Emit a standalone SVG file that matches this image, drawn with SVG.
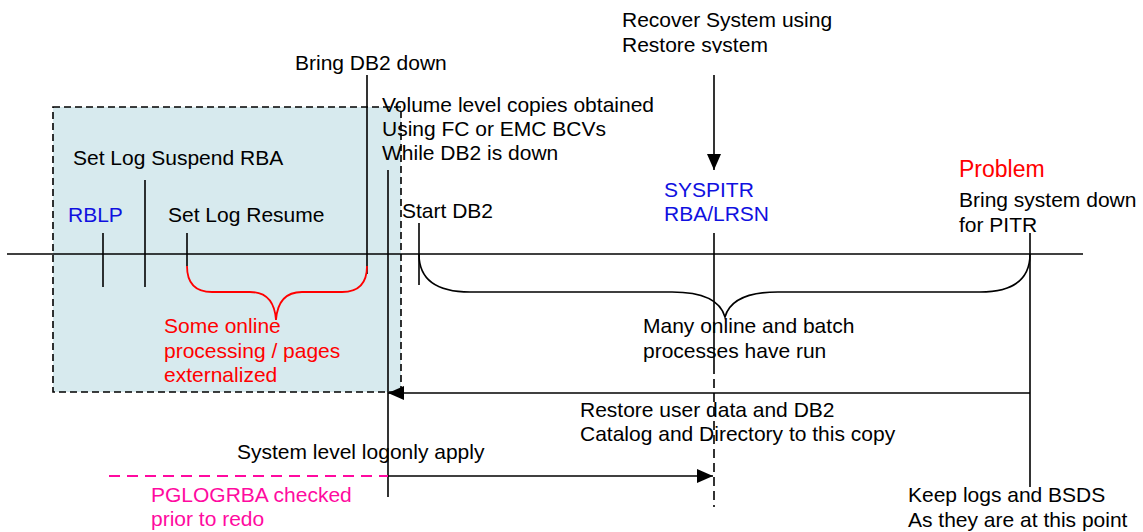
<svg xmlns="http://www.w3.org/2000/svg" width="1143" height="532" viewBox="0 0 1143 532">
<style>
text{font-family:"Liberation Sans",Arial,sans-serif;font-size:21px;fill:#000}
.blue{fill:#1010e0}
.red{fill:#ff0000}
.pink{fill:#ff0aa0}
.ln{stroke:#000;stroke-width:1.6;fill:none}
.dash{stroke:#000;stroke-width:1.6;fill:none;stroke-dasharray:9 5}
</style>
<defs>
<marker id="ah" viewBox="0 0 16 14" refX="16" refY="7" markerWidth="16" markerHeight="14" markerUnits="userSpaceOnUse" orient="auto">
<path d="M0,0 L16,7 L0,14 Z" fill="#000"/>
</marker>
<clipPath id="clipTop"><rect x="600" y="0" width="300" height="53"/></clipPath>
</defs>

<g id="copy-box">
<rect x="53" y="107" width="348" height="285" fill="#d7eaee" stroke="#000" stroke-width="1.6" stroke-dasharray="7 4"/>
</g>

<g id="connectors">
<line class="ln" x1="7" y1="254" x2="1083" y2="254"/>
<line class="ln" x1="103" y1="233" x2="103" y2="287"/>
<line class="ln" x1="145" y1="180" x2="145" y2="287"/>
<line class="ln" x1="187" y1="233" x2="187" y2="266"/>
<line class="ln" x1="367" y1="75" x2="367" y2="274"/>
<line class="ln" x1="388" y1="170" x2="388" y2="497"/>
<line class="ln" x1="419" y1="223" x2="419" y2="285"/>
<line class="ln" x1="714" y1="233" x2="714" y2="365"/>
<line class="dash" x1="714" y1="365" x2="714" y2="507"/>
<line class="ln" x1="1030" y1="233" x2="1030" y2="487"/>
<line class="ln" x1="714" y1="75" x2="714" y2="170" marker-end="url(#ah)"/>
<line class="ln" x1="1030" y1="393" x2="388" y2="393" marker-end="url(#ah)"/>
<line class="ln" x1="388" y1="476" x2="713" y2="476" marker-end="url(#ah)"/>
<line x1="109" y1="476" x2="388" y2="476" stroke="#ff0aa0" stroke-width="1.8" stroke-dasharray="11 7"/>
<path d="M187,266 Q187,292 212,292 L250,292 Q274,292 276,320 Q278,292 302,292 L342,292 Q367,292 367,266" fill="none" stroke="#ff0000" stroke-width="1.8"/>
<path d="M419,254 Q419,292 470,292 L672,292 Q718,292 725,317 Q732,292 778,292 L980,292 Q1030,292 1030,254" class="ln"/>
</g>

<g id="recover">
<text x="622" y="27">Recover System using</text>
<text x="622" y="52" clip-path="url(#clipTop)">Restore system</text>
</g>
<g id="bring-down"><text x="295" y="70">Bring DB2 down</text></g>
<g id="volume">
<text x="382" y="112">Volume level copies obtained</text>
<text x="382" y="136">Using FC or EMC BCVs</text>
<text x="382" y="160">While DB2 is down</text>
</g>
<g id="suspend"><text x="73" y="165">Set Log Suspend RBA</text></g>
<g id="rblp"><text class="blue" x="68" y="222">RBLP</text></g>
<g id="resume"><text x="168" y="222">Set Log Resume</text></g>
<g id="start"><text x="402" y="218">Start DB2</text></g>
<g id="syspitr">
<text class="blue" x="664" y="197">SYSPITR</text>
<text class="blue" x="664" y="221">RBA/LRSN</text>
</g>
<g id="problem">
<text class="red" x="959" y="177" style="font-size:23px">Problem</text>
<text x="959" y="207">Bring system down</text>
<text x="959" y="232">for PITR</text>
</g>
<g id="some-online">
<text class="red" x="164" y="333">Some online</text>
<text class="red" x="164" y="358">processing / pages</text>
<text class="red" x="164" y="382">externalized</text>
</g>
<g id="many-online">
<text x="643" y="333">Many online and batch</text>
<text x="643" y="358">processes have run</text>
</g>
<g id="restore">
<text x="580" y="417">Restore user data and DB2</text>
<text x="580" y="441">Catalog and Directory to this copy</text>
</g>
<g id="logonly"><text x="237" y="459">System level logonly apply</text></g>
<g id="pglogrba">
<text class="pink" x="151" y="502">PGLOGRBA checked</text>
<text class="pink" x="151" y="526">prior to redo</text>
</g>
<g id="keep">
<text x="908" y="502">Keep logs and BSDS</text>
<text x="908" y="527">As they are at this point</text>
</g>
</svg>
